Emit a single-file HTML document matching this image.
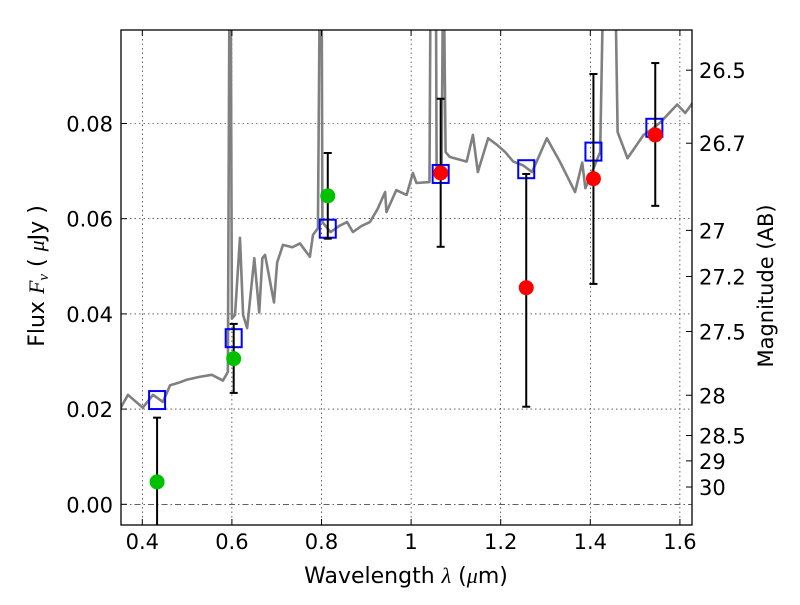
<!DOCTYPE html>
<html><head><meta charset="utf-8"><style>
body{margin:0;background:#fff;width:800px;height:600px;overflow:hidden}
svg text{font-family:"DejaVu Sans","Liberation Sans",sans-serif;fill:#000}
</style></head><body>
<svg id="chart" width="800" height="600" xmlns="http://www.w3.org/2000/svg">
<defs><clipPath id="clip"><rect x="121" y="30" width="571" height="495"/></clipPath></defs>
<g id="grid"></g>
<g id="spec" clip-path="url(#clip)"></g>
<g id="marks" clip-path="url(#clip)"></g>
<rect x="121" y="30" width="571" height="495" fill="none" stroke="#000" stroke-width="1.3"/>
<g id="axes"></g>
<text x="406" y="583" font-size="22" text-anchor="middle">Wavelength  <tspan font-family="Liberation Serif" font-style="italic">λ</tspan> (<tspan font-family="Liberation Serif" font-style="italic">μ</tspan>m)</text>
<text transform="translate(44,276) rotate(-90)" font-size="22" text-anchor="middle">Flux <tspan font-family="Liberation Serif" font-style="italic">F<tspan font-size="15" dy="4">ν</tspan></tspan><tspan dy="-4"> ( </tspan><tspan font-family="Liberation Serif" font-style="italic">μ</tspan>Jy )</text>
<text transform="translate(773,286) rotate(-90)" font-size="21" text-anchor="middle">Magnitude (AB)</text>
</svg>
<script>
const specLam=[0.352,0.368,0.401,0.424,0.446,0.462,0.480,0.500,0.529,0.555,0.580,0.591,0.595,0.597,0.600,0.607,0.618,0.625,0.634,0.650,0.661,0.668,0.674,0.694,0.701,0.714,0.735,0.752,0.774,0.781,0.792,0.797,0.800,0.802,0.820,0.840,0.857,0.870,0.890,0.908,0.925,0.942,0.945,0.967,0.990,1.004,1.012,1.041,1.044,1.055,1.057,1.068,1.072,1.077,1.086,1.105,1.124,1.138,1.149,1.172,1.192,1.210,1.228,1.250,1.270,1.303,1.332,1.366,1.382,1.389,1.422,1.431,1.454,1.461,1.483,1.500,1.519,1.540,1.557,1.594,1.612,1.628];
const specFlux=[0.0203,0.023,0.0203,0.023,0.0215,0.025,0.0255,0.0262,0.0268,0.0272,0.026,0.0278,0.12,0.12,0.039,0.0398,0.056,0.0398,0.037,0.0517,0.0403,0.0517,0.0524,0.0424,0.0508,0.0545,0.054,0.0548,0.052,0.0566,0.058,0.12,0.12,0.0593,0.0572,0.0585,0.0593,0.0572,0.0585,0.0593,0.062,0.0656,0.0614,0.066,0.065,0.0696,0.0675,0.0677,0.12,0.12,0.069,0.07,0.12,0.074,0.073,0.0725,0.072,0.0776,0.0698,0.0769,0.0755,0.074,0.072,0.0712,0.0698,0.0769,0.072,0.0656,0.0718,0.0664,0.074,0.12,0.12,0.0782,0.0727,0.075,0.0776,0.079,0.0803,0.084,0.0822,0.0843];
const modelLam=[0.433,0.604,0.814,1.066,1.257,1.407,1.543];
const modelFlux=[0.0219,0.0349,0.0579,0.0694,0.0704,0.0741,0.0791];
const greenLam=[0.433,0.604,0.814];
const greenFlux=[0.0047,0.0306,0.0648];
const greenLo=[-0.013,0.0234,0.0558];
const greenHi=[0.0182,0.0379,0.0738];
const redLam=[1.066,1.257,1.407,1.545];
const redFlux=[0.0696,0.0455,0.0684,0.0776];
const redLo=[0.0541,0.0205,0.0463,0.0627];
const redHi=[0.0852,0.0694,0.0904,0.0927];
const xTicks=[0.4,0.6,0.8,1.0,1.2,1.4,1.6];
const xTickLabels=["0.4","0.6","0.8","1","1.2","1.4","1.6"];
const yTicks=[0,0.02,0.04,0.06,0.08];
const yTickLabels=["0.00","0.02","0.04","0.06","0.08"];
const magTicks=[26.5,26.7,27,27.2,27.5,28,28.5,29,30];

const X=v=>142.3+(v-0.4)*448;
const Y=v=>504.3-v*4760;
const NS="http://www.w3.org/2000/svg";
function mk(p,tag,at){const e=document.createElementNS(NS,tag);for(const k in at)e.setAttribute(k,at[k]);p.appendChild(e);return e;}
const grid=document.getElementById('grid'),axes=document.getElementById('axes'),spec=document.getElementById('spec'),marks=document.getElementById('marks');

xTicks.forEach((t,i)=>{
 const l=mk(grid,'line',{x1:X(t),x2:X(t),y1:30,y2:525,stroke:'#000','stroke-width':0.6,'stroke-dasharray':'1.5,3'});
 
 
 mk(axes,'line',{x1:X(t),x2:X(t),y1:525,y2:519,stroke:'#000'});
 mk(axes,'line',{x1:X(t),x2:X(t),y1:30,y2:36,stroke:'#000'});
 const tx=mk(axes,'text',{x:X(t),y:549,'font-size':21,'text-anchor':'middle'});
 tx.textContent=xTickLabels[i];
 
 
});
yTicks.forEach((t,i)=>{
 const l=mk(grid,'line',{x1:121,x2:692,y1:Y(t),y2:Y(t),stroke:'#000','stroke-width':0.6,'stroke-dasharray':t===0?'6,3,1.5,3':'1.5,3'});
 
 
 mk(axes,'line',{x1:121,x2:127,y1:Y(t),y2:Y(t),stroke:'#000'});
 const tx=mk(axes,'text',{x:113,y:Y(t)+8,'font-size':21,'text-anchor':'end'});
 tx.textContent=yTickLabels[i];
 
 
});
magTicks.forEach(m=>{
 const y=Y(Math.pow(10,(23.9-m)/2.5));
 mk(axes,'line',{x1:686,x2:692,y1:y,y2:y,stroke:'#000'});
 const tx=mk(axes,'text',{x:699,y:y+8,'font-size':21});
 tx.textContent=String(m);
 
 
});

const sp=mk(spec,'polyline',{points:specLam.map((l,i)=>X(l)+','+Y(specFlux[i])).join(' '),fill:'none',stroke:'#808080','stroke-width':2.6,'stroke-linejoin':'round'});



function errbar(l,lo,hi){
 const x=X(l);
 mk(marks,'line',{x1:x,x2:x,y1:Y(lo),y2:Y(hi),stroke:'#000','stroke-width':2});
 mk(marks,'line',{x1:x-4,x2:x+4,y1:Y(lo),y2:Y(lo),stroke:'#000','stroke-width':2});
 mk(marks,'line',{x1:x-4,x2:x+4,y1:Y(hi),y2:Y(hi),stroke:'#000','stroke-width':2});
}
modelLam.forEach((l,i)=>{
 const r=mk(marks,'rect',{x:X(l)-8,y:Y(modelFlux[i])-9,width:16,height:18,fill:'none',stroke:'#0000ff','stroke-width':2});
 
 
});
greenLam.forEach((l,i)=>{
 errbar(l,greenLo[i],greenHi[i]);
 const c=mk(marks,'circle',{cx:X(l),cy:Y(greenFlux[i]),r:7.5,fill:'#00c000'});
 
 
});
redLam.forEach((l,i)=>{
 errbar(l,redLo[i],redHi[i]);
 const c=mk(marks,'circle',{cx:X(l),cy:Y(redFlux[i]),r:7.5,fill:'#ff0000'});
 
 
});
</script>
</body></html>
